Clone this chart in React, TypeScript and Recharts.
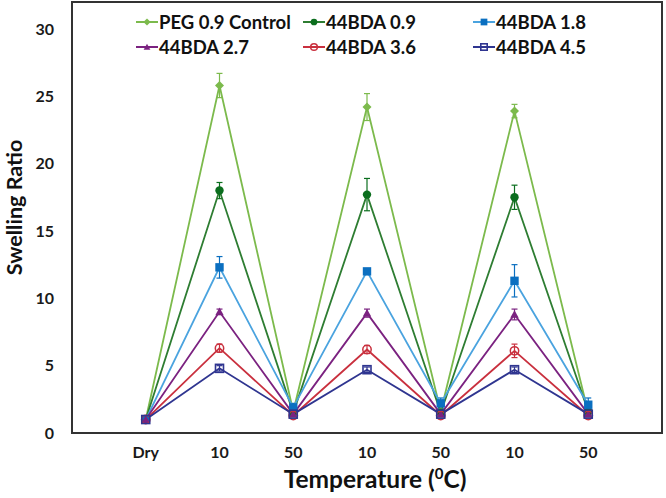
import React from 'react'
import { LineChart, Line, XAxis, YAxis, ErrorBar, ReferenceArea } from 'recharts'

const temps = ['Dry', '10', '50', '10', '50', '10', '50']

const peg09 = [1.0, 25.8, 1.6, 24.2, 1.6, 23.9, 1.5]
const peg09Err = [0.05, 0.9, 0.2, 1.0, 0.2, 0.5, 0.2]
const bda09 = [1.0, 18.0, 1.5, 17.7, 1.5, 17.5, 1.6]
const bda09Err = [0.05, 0.6, 0.1, 1.2, 0.1, 0.9, 0.1]
const bda18 = [1.0, 12.3, 1.9, 12.0, 2.2, 11.3, 2.1]
const bda18Err = [0.05, 0.8, 0.3, 0.2, 0.4, 1.2, 0.5]
const bda27 = [1.0, 9.0, 1.4, 8.9, 1.4, 8.8, 1.4]
const bda27Err = [0.05, 0.2, 0.1, 0.3, 0.1, 0.4, 0.1]
const bda36 = [1.0, 6.3, 1.3, 6.2, 1.3, 6.1, 1.3]
const bda36Err = [0.05, 0.3, 0.1, 0.3, 0.1, 0.5, 0.1]
const bda45 = [1.0, 4.8, 1.4, 4.7, 1.4, 4.7, 1.4]
const bda45Err = [0.05, 0.2, 0.1, 0.2, 0.1, 0.2, 0.1]

const yTicks = [0, 5, 10, 15, 20, 25, 30]

type Shape = 'diamond' | 'circle' | 'square' | 'triangle' | 'openCircle' | 'openSquare'

const series = [
  { key: 'peg09', name: 'PEG 0.9 Control', values: peg09, errs: peg09Err, line: '#7cba4c', mark: '#7cba4c', shape: 'diamond' as Shape },
  { key: 'bda09', name: '44BDA 0.9', values: bda09, errs: bda09Err, line: '#2e7d32', mark: '#0b6e1e', shape: 'circle' as Shape },
  { key: 'bda18', name: '44BDA 1.8', values: bda18, errs: bda18Err, line: '#4aa3df', mark: '#0b6fc0', shape: 'square' as Shape },
  { key: 'bda27', name: '44BDA 2.7', values: bda27, errs: bda27Err, line: '#7b2280', mark: '#7b2280', shape: 'triangle' as Shape },
  { key: 'bda36', name: '44BDA 3.6', values: bda36, errs: bda36Err, line: '#c9303e', mark: '#c9303e', shape: 'openCircle' as Shape },
  { key: 'bda45', name: '44BDA 4.5', values: bda45, errs: bda45Err, line: '#2f3590', mark: '#2f3590', shape: 'openSquare' as Shape },
]

const data = temps.map((t, i) => {
  const row: Record<string, number | string> = { x: i + 1, label: t }
  series.forEach((s) => {
    row[s.key] = s.values[i]
    row[s.key + 'Err'] = s.errs[i]
  })
  return row
})

const FONT = 'Lato, "Open Sans", sans-serif'

function Marker({ shape, cx, cy, color, s = 1 }: { shape: Shape; cx: number; cy: number; color: string; s?: number }) {
  switch (shape) {
    case 'diamond': {
      const r = 4.5 * s
      return <polygon points={`${cx},${cy - r} ${cx + r},${cy} ${cx},${cy + r} ${cx - r},${cy}`} fill={color} />
    }
    case 'circle':
      return <circle cx={cx} cy={cy} r={4.2 * s} fill={color} />
    case 'square': {
      const h = 4.2 * s
      return <rect x={cx - h} y={cy - h} width={2 * h} height={2 * h} fill={color} />
    }
    case 'triangle': {
      const h = 4.2 * s
      return <polygon points={`${cx},${cy - h} ${cx + h},${cy + h * 0.8} ${cx - h},${cy + h * 0.8}`} fill={color} />
    }
    case 'openCircle':
      return <circle cx={cx} cy={cy} r={4.2 * s} fill="none" stroke={color} strokeWidth={1.5} />
    case 'openSquare': {
      const h = 4 * s
      return <rect x={cx - h} y={cy - h} width={2 * h} height={2 * h} fill="none" stroke={color} strokeWidth={1.6} />
    }
  }
  return null
}

// legend drawn as an overlay so it does not shrink the plot area
function LegendBox() {
  return (
    <div
      style={{
        position: 'absolute',
        left: 136,
        top: 11,
        display: 'grid',
        gridTemplateColumns: '167px 170px 170px',
        rowGap: 4,
        fontFamily: FONT,
        fontWeight: 700,
        fontSize: 18.5,
        color: '#111',
      }}
    >
      {series.map((s) => (
        <div key={s.key} style={{ display: 'flex', alignItems: 'center', height: 21, whiteSpace: 'nowrap' }}>
          <svg width={22} height={14} style={{ marginRight: 1 }}>
            <line x1={0} y1={7} x2={22} y2={7} stroke={s.line} strokeWidth={2} />
            <Marker shape={s.shape} cx={11} cy={7} color={s.mark} s={0.8} />
          </svg>
          <span>{s.name}</span>
        </div>
      ))}
    </div>
  )
}

function XTitle(props: any) {
  const vb = props.viewBox
  const cx = vb.x + vb.width / 2 + 8
  return (
    <text x={cx} y={vb.y + 55} textAnchor="middle" fontFamily={FONT} fontWeight={700} fontSize={24.5} fill="#111">
      Temperature (<tspan fontSize={15} dy={-9}>0</tspan>
      <tspan dy={9}>C)</tspan>
    </text>
  )
}

function YTitle(props: any) {
  const vb = props.viewBox
  const cy = vb.y + vb.height / 2 - 10
  const cx = 14
  return (
    <text
      x={cx}
      y={cy}
      transform={`rotate(-90 ${cx} ${cy})`}
      textAnchor="middle"
      dominantBaseline="central"
      fontFamily={FONT}
      fontWeight={700}
      fontSize={21.5}
      fill="#111"
    >
      Swelling Ratio
    </text>
  )
}

export default function App() {
  const tickStyle = { fontFamily: FONT, fontWeight: 700, fontSize: 16, fill: '#1a1a1a' }
  return (
    <div style={{ position: 'absolute', left: 0, top: 0, width: 666, height: 498, background: '#fff' }}>
      <LineChart width={666} height={498} data={data} margin={{ top: 2, right: 4, left: 0, bottom: 0 }}>
        <ReferenceArea x1={0} x2={8} y1={0} y2={32} fill="none" stroke="#333" strokeWidth={2} ifOverflow="visible" />
        <XAxis
          dataKey="x"
          type="number"
          domain={[0, 8]}
          ticks={[1, 2, 3, 4, 5, 6, 7]}
          tickFormatter={(v: number) => temps[v - 1] ?? ''}
          height={65}
          axisLine={{ stroke: '#333', strokeWidth: 2 }}
          tickLine={false}
          tickSize={0}
          tickMargin={14}
          tick={tickStyle}
          label={<XTitle />}
        />
        <YAxis
          type="number"
          domain={[0, 32]}
          ticks={yTicks}
          width={72}
          axisLine={{ stroke: '#333', strokeWidth: 2 }}
          tickLine={false}
          tickSize={0}
          tickMargin={18}
          tick={tickStyle}
          label={<YTitle />}
        />
        {series.map((s) => (
          <Line
            key={s.key}
            dataKey={s.key}
            name={s.name}
            stroke={s.line}
            strokeWidth={1.8}
            isAnimationActive={false}
            dot={(p: any) => <Marker key={`${s.key}-${p.index}`} shape={s.shape} cx={p.cx} cy={p.cy} color={s.mark} />}
            activeDot={false}
          >
            <ErrorBar dataKey={s.key + 'Err'} direction="y" width={3} stroke={s.mark} strokeWidth={1.2} isAnimationActive={false} />
          </Line>
        ))}
      </LineChart>
      <LegendBox />
    </div>
  )
}
